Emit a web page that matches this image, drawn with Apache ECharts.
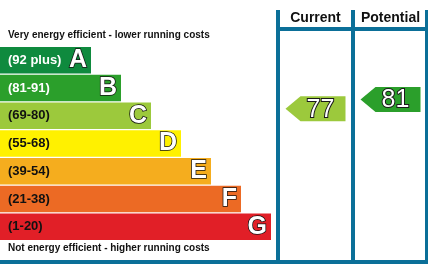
<!DOCTYPE html>
<html>
<head>
<meta charset="UTF-8"/>
<title>EPC</title>
<script src="https://cdn.jsdelivr.net/npm/echarts@6/dist/echarts.min.js"></script>
<style>
html, body { margin: 0; padding: 0; background: #fff; }
#chart { width: 428px; height: 265px; }
</style>
</head>
<body>
<div id="chart"></div>
<script type="text/javascript">
// bands, top (best) to bottom (worst)
var bandLetters = ['A', 'B', 'C', 'D', 'E', 'F', 'G'];
var bandRanges = ['(92 plus)', '(81-91)', '(69-80)', '(55-68)', '(39-54)', '(21-38)', '(1-20)'];
var bandLow = [92, 81, 69, 55, 39, 21, 1];
var bandHigh = [100, 91, 80, 68, 54, 38, 20];
var bandLengths = [91, 121, 151, 181, 211, 241, 271];
var bandColors = ['#0f8a3e', '#2b9f2b', '#9cc93c', '#fff100', '#f5ad1e', '#ec6a24', '#e11f27'];
var rangeTextColors = ['#fff', '#fff', '#111', '#111', '#111', '#111', '#111'];

var columns = ['Current', 'Potential'];
var ratings = [77, 81];

var topCaption = 'Very energy efficient - lower running costs';
var bottomCaption = 'Not energy efficient - higher running costs';

var frameBlue = '#0b6f98';
var font = '"Liberation Sans", Arial, sans-serif';

function bandOf(r) {
  for (var i = 0; i < bandLow.length; i++) {
    if (r >= bandLow[i]) return i;
  }
  return bandLow.length - 1;
}
// position on the band scale (0 = top of A, 7 = bottom of G)
function bandPos(r) {
  var i = bandOf(r);
  return i + (bandHigh[i] - r) / (bandHigh[i] - bandLow[i] + 1);
}

var rangeData = bandLengths.map(function (v, i) {
  return {
    value: v,
    itemStyle: { color: bandColors[i] },
    label: { color: rangeTextColors[i] }
  };
});

var arrowData = ratings.map(function (r, i) {
  return {
    value: [columns[i], bandPos(r)],
    rating: r,
    itemStyle: { color: bandColors[bandOf(r)], opacity: 1 }
  };
});

var myChart = echarts.init(document.getElementById('chart'));
var option = {
  animation: false,
  grid: [
    { left: 0, top: 46.5, width: 280, height: 194 },
    { left: 278, top: 46.5, width: 150, height: 194 }
  ],
  xAxis: [
    { gridIndex: 0, type: 'value', min: 0, max: 280, show: false },
    {
      gridIndex: 1, type: 'category', data: columns, position: 'top',
      axisLine: { show: false }, axisTick: { show: false }, splitLine: { show: false },
      axisLabel: { interval: 0, hideOverlap: false, margin: 21, fontFamily: font, fontSize: 14, fontWeight: 'bold', color: '#111' }
    }
  ],
  yAxis: [
    { gridIndex: 0, type: 'category', data: bandLetters, inverse: true, show: false },
    { gridIndex: 1, type: 'value', min: 0, max: 7, inverse: true, show: false }
  ],
  series: [
    {
      type: 'bar',
      xAxisIndex: 0, yAxisIndex: 0,
      barWidth: 26.5,
      silent: true,
      data: rangeData,
      label: {
        show: true, position: 'insideLeft', distance: 8,
        fontFamily: font, fontSize: 13, fontWeight: 'bold',
        formatter: function (p) { return bandRanges[p.dataIndex]; }
      }
    },
    {
      type: 'bar',
      xAxisIndex: 0, yAxisIndex: 0,
      barWidth: 26.5, barGap: '-100%',
      silent: true,
      data: bandLengths,
      itemStyle: { color: 'rgba(0,0,0,0)' },
      label: {
        show: true, position: 'insideRight', distance: 4,
        fontFamily: font, fontSize: 25, fontWeight: 'bold',
        color: '#fff', textBorderColor: '#111', textBorderWidth: 1.5,
        formatter: function (p) { return bandLetters[p.dataIndex]; }
      }
    },
    {
      type: 'scatter',
      xAxisIndex: 1, yAxisIndex: 1,
      symbol: 'path://M0,12.5L15,0L60,0L60,25L15,25Z',
      symbolSize: [60, 25],
      symbolKeepAspect: false,
      silent: true,
      data: arrowData,
      itemStyle: { opacity: 1 },
      label: {
        show: true, position: 'inside', offset: [5, 1],
        fontFamily: font, fontSize: 25, opacity: 1,
        color: '#fff', textBorderColor: '#1a1a1a', textBorderWidth: 2,
        formatter: function (p) { return p.data.rating; }
      }
    }
  ],
  graphic: [
    { type: 'text', left: 8, top: 30, style: { text: topCaption, font: 'bold 10px ' + font, fill: '#111' } },
    { type: 'text', left: 8, top: 243, style: { text: bottomCaption, font: 'bold 10px ' + font, fill: '#111' } },
    { type: 'rect', shape: { x: 276, y: 10, width: 4, height: 254 }, style: { fill: frameBlue } },
    { type: 'rect', shape: { x: 351, y: 10, width: 4, height: 254 }, style: { fill: frameBlue } },
    { type: 'rect', shape: { x: 425, y: 10, width: 4, height: 254 }, style: { fill: frameBlue } },
    { type: 'rect', shape: { x: 276, y: 27, width: 153, height: 4 }, style: { fill: frameBlue } },
    { type: 'rect', shape: { x: 0, y: 260, width: 429, height: 4 }, style: { fill: frameBlue } }
  ]
};
myChart.setOption(option);
</script>
</body>
</html>
